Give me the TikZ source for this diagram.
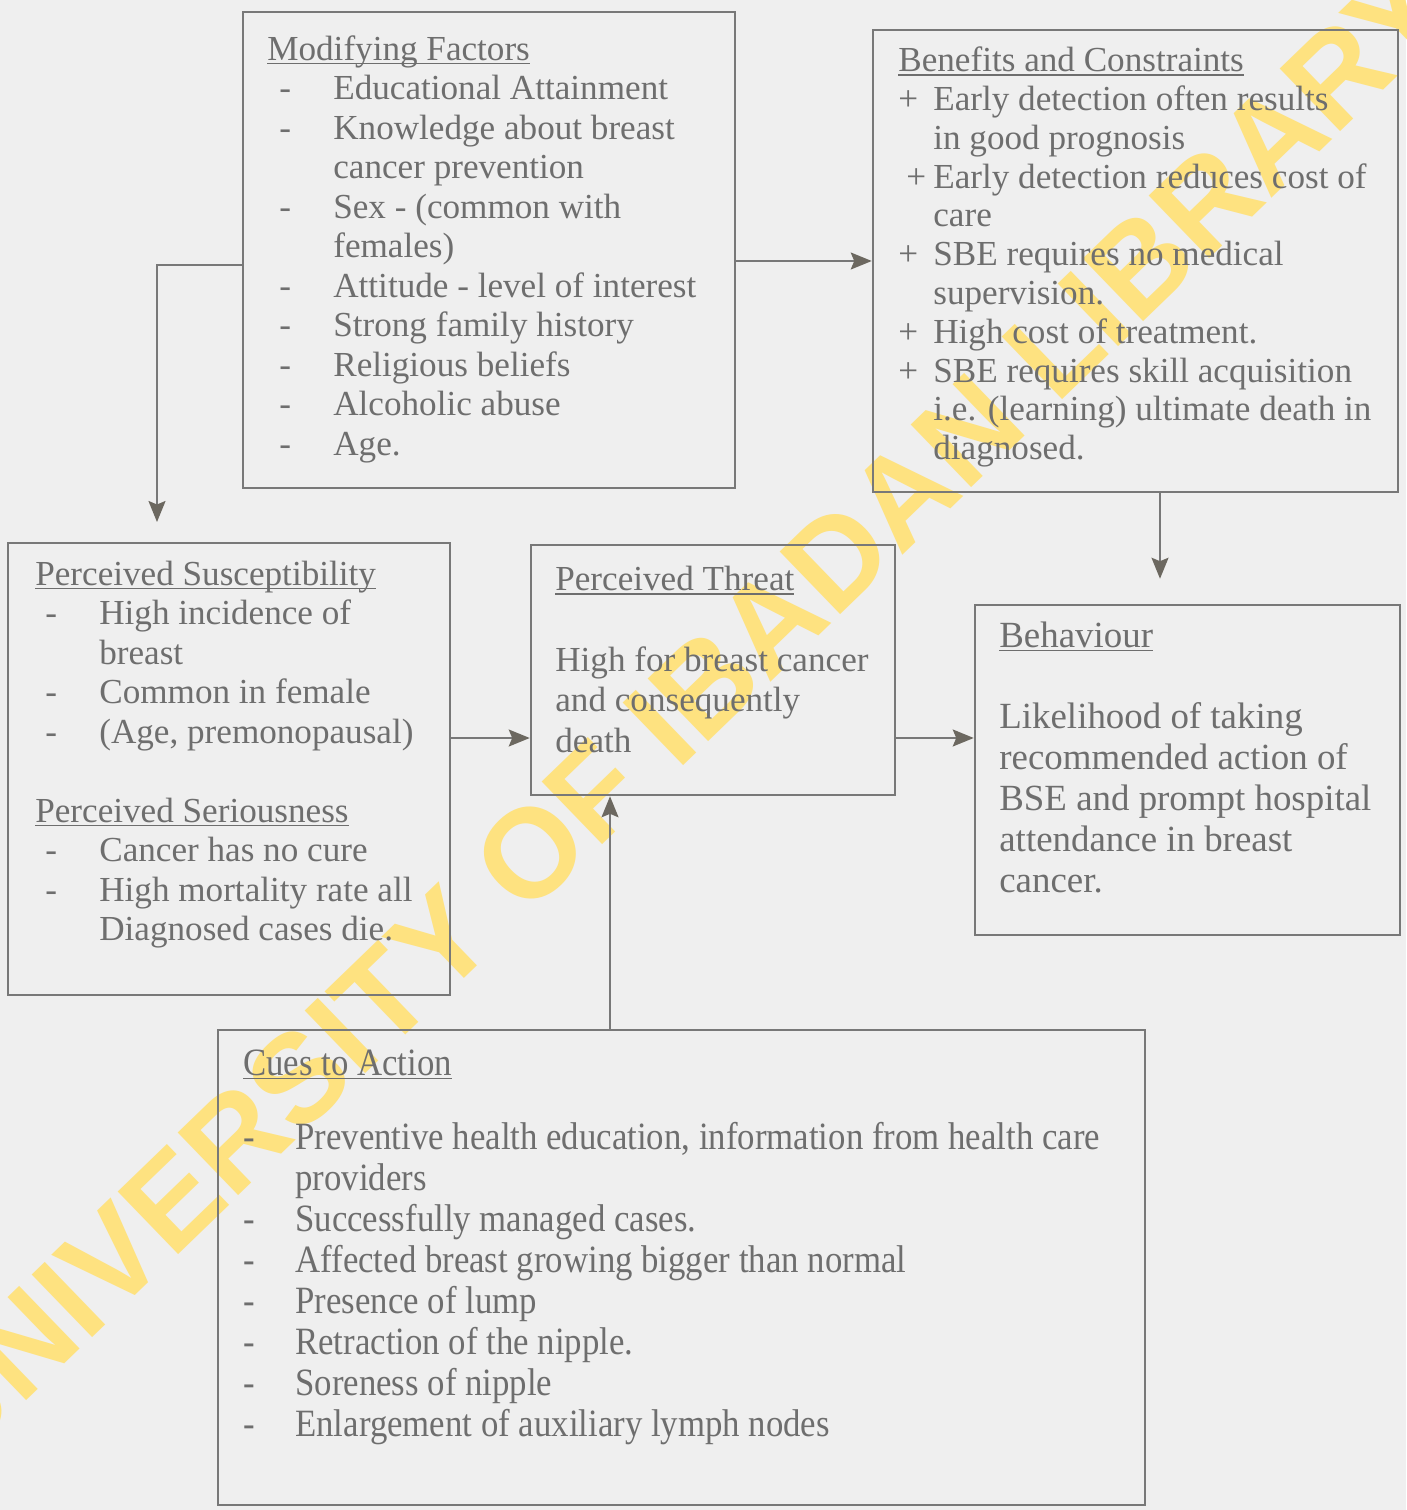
\documentclass[tikz,border=0pt]{standalone}
\usepackage{fontspec}
\setmainfont{Liberation Serif}
\newfontfamily\narrowserif[FakeStretch=0.9]{Liberation Serif}
\newfontfamily\wmfont{Liberation Sans}
\usepackage{array}
\usepackage{tikz}
\usetikzlibrary{arrows.meta,positioning}
\definecolor{pagegrey}{RGB}{239,239,239}
\definecolor{inkgrey}{RGB}{110,110,110}
\definecolor{linegrey}{RGB}{120,120,120}
\definecolor{tipgrey}{RGB}{108,104,96}
\definecolor{wmyellow}{RGB}{254,226,128}
\newcommand{\headul}[1]{\setbox0\hbox{#1}\rlap{\rule[-2.4pt]{\wd0}{0.9pt}}\box0}

\begin{document}
\begin{tikzpicture}[x=0.02cm, y=-0.02cm,
          box/.style={draw=linegrey, line width=1.5pt, rectangle,
                      inner sep=0pt},
          txt/.style={anchor=north west, inner sep=0pt, text=inkgrey,
                      font=\fontsize{20}{22.5}\selectfont},
          wm/.style={text=wmyellow, font=\wmfont\bfseries\fontsize{72}{75}\selectfont,
                     rotate=44, inner sep=0pt},
          arr/.style={draw=linegrey, line width=1.1pt,
                      -{Stealth[length=0.42cm, width=0.34cm, inset=0.07cm, color=tipgrey]}}]
        \useasboundingbox (0,0) rectangle (1406,1510);
        \fill[pagegrey] (0,0) rectangle (1406,1510);
        \node[wm] (wmark) at (676,713) {UNIVERSITY OF IBADAN LIBRARY};

        % the six boxes
        \node[box, minimum width=9.84cm, minimum height=9.52cm] (mod) at (489,250) {};
        \node[box, minimum width=10.5cm, minimum height=9.24cm] (ben) at (1135.5,261) {};
        \node[box, minimum width=8.84cm, minimum height=9.04cm] (sus) at (229,769) {};
        \node[box, minimum width=7.28cm, minimum height=5.0cm] (thr) at (713,670) {};
        \node[box, minimum width=8.5cm, minimum height=6.6cm] (beh) at (1187.5,770) {};
        \node[box, minimum width=18.54cm, minimum height=9.5cm] (cue) at (681.5,1267.5) {};

        \node[txt] (modtxt) at (267,32) {%
          \begin{tabular}{@{}>{\hspace*{0.24cm}}p{1.32cm}@{}l@{}}
          \multicolumn{2}{@{}l@{}}{\headul{Modifying Factors}}\\
          - & Educational Attainment\\
          - & Knowledge about breast\\
            & cancer prevention\\
          - & Sex - (common with\\
            & females)\\
          - & Attitude - level of interest\\
          - & Strong family history\\
          - & Religious beliefs\\
          - & Alcoholic abuse\\
          - & Age.
          \end{tabular}};
        \node[txt, font=\fontsize{20}{22.1}\selectfont] (bentxt) at (898,44) {%
          \begin{tabular}{@{}p{0.7cm}@{}l@{}}
          \multicolumn{2}{@{}l@{}}{\headul{Benefits and Constraints}}\\
          + & Early detection often results\\
            & in good prognosis\\
          \hspace*{0.16cm}+ & Early detection reduces cost of\\
            & care\\
          + & SBE requires no medical\\
            & supervision.\\
          + & High cost of treatment.\\
          + & SBE requires skill acquisition\\
            & i.e. (learning) ultimate death in\\
            & diagnosed.
          \end{tabular}};
        \node[txt] (sustxt) at (35,557) {%
          \begin{tabular}{@{}>{\hspace*{0.2cm}}p{1.28cm}@{}l@{}}
          \multicolumn{2}{@{}l@{}}{\headul{Perceived Susceptibility}}\\
          - & High incidence of\\
            & breast\\
          - & Common in female\\
          - & (Age, premonopausal)\\
          \\
          \multicolumn{2}{@{}l@{}}{\headul{Perceived Seriousness}}\\
          - & Cancer has no cure\\
          - & High mortality rate all\\
            & Diagnosed cases die.
          \end{tabular}};
        \node[txt, font=\fontsize{20}{23}\selectfont] (thrtxt) at (555,562) {%
          \begin{tabular}{@{}l@{}}
          \headul{Perceived Threat}\\
          \\
          High for breast cancer\\
          and consequently\\
          death
          \end{tabular}};
        \node[txt, font=\fontsize{21}{23.3}\selectfont] (behtxt) at (999,618) {%
          \begin{tabular}{@{}l@{}}
          \headul{Behaviour}\\
          \\
          Likelihood of taking\\
          recommended action of\\
          BSE and prompt hospital\\
          attendance in breast\\
          cancer.
          \end{tabular}};
        \node[txt, font=\narrowserif\fontsize{22}{23.3}\selectfont] (cuetxt) at (243,1046) {%
          \begin{tabular}{@{}p{1.04cm}@{}l@{}}
          \multicolumn{2}{@{}l@{}}{\headul{Cues to Action}}\\[0.68cm]
          - & Preventive health education, information from health care\\
            & providers\\
          - & Successfully managed cases.\\
          - & Affected breast growing bigger than normal\\
          - & Presence of lump\\
          - & Retraction of the nipple.\\
          - & Soreness of nipple\\
          - & Enlargement of auxiliary lymph nodes
          \end{tabular}};

        % connectors
        \coordinate (modout) at ([yshift=-0.3cm]mod.west);
        \coordinate (susin) at (157,522);
        \draw[arr] (modout) -| (susin);
        \coordinate (modright) at (mod.east |- ben.west);
        \draw[arr] (modright) -- (ben.west);
        \coordinate (benout) at ([xshift=0.49cm]ben.south);
        \draw[arr, shorten >=0.5cm] (benout) -- (benout |- beh.north);
        \coordinate (susout) at ([yshift=0.62cm]sus.east);
        \draw[arr] (susout) -- (susout -| thr.west);
        \coordinate (throut) at ([yshift=-1.36cm]thr.east);
        \draw[arr] (throut) -- (throut -| beh.west);
        \coordinate (cueout) at ([xshift=-1.43cm]cue.north);
        \draw[arr] (cueout) -- (cueout |- thr.south);
      \end{tikzpicture}
\end{document}
